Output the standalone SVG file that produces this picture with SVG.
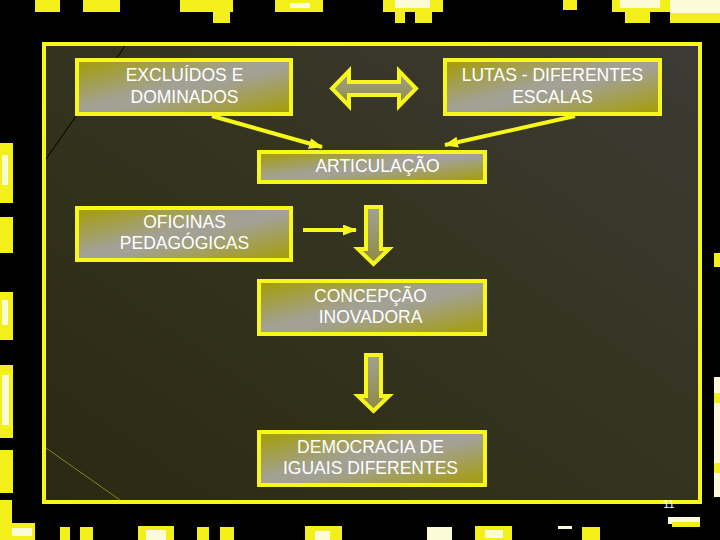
<svg xmlns="http://www.w3.org/2000/svg" width="720" height="540" viewBox="0 0 720 540">
  <defs>
    <linearGradient id="panelg" x1="0" y1="1" x2="1" y2="0">
      <stop offset="0" stop-color="#2b2912"/>
      <stop offset="0.5" stop-color="#34331f"/>
      <stop offset="1" stop-color="#3c3b35"/>
    </linearGradient>
    <linearGradient id="boxg" x1="0" y1="0" x2="1" y2="1">
      <stop offset="0" stop-color="#a59d00"/>
      <stop offset="0.45" stop-color="#a2a194"/>
      <stop offset="0.55" stop-color="#a2a194"/>
      <stop offset="1" stop-color="#a59d00"/>
    </linearGradient>
    <linearGradient id="arrg" x1="0" y1="0" x2="0" y2="1">
      <stop offset="0" stop-color="#a2a294"/>
      <stop offset="1" stop-color="#8f8a40"/>
    </linearGradient>
    <marker id="ah" markerWidth="14" markerHeight="11" refX="13" refY="5.5" orient="auto" markerUnits="userSpaceOnUse" viewBox="0 0 14 11">
      <path d="M0,0 L14,5.5 L0,11 Z" fill="#f7f71a"/>
    </marker>
    <style>
      .blk { fill: #f2f018; }
      .wht { fill: #fbfbd8; }
      .box { fill: url(#boxg); stroke: #f7f71a; stroke-width: 4; }
      .barrow { fill: url(#arrg); stroke: #f7f71a; stroke-width: 4; stroke-linejoin: miter; }
      .conn { stroke: #f7f71a; stroke-width: 4; fill: none; }
      .lbl { font-family: "Liberation Sans", Arial, sans-serif; font-size: 17.5px; fill: #ffffff; text-anchor: middle; }
    </style>
  </defs>

  <rect x="0" y="0" width="720" height="540" fill="#000000"/>

  <g id="decor">
    <rect class="blk" x="35" y="0" width="25" height="12"/>
    <rect class="blk" x="83" y="0" width="37" height="12"/>
    <rect class="blk" x="180" y="0" width="53" height="12"/>
    <rect class="blk" x="213" y="10" width="17" height="13"/>
    <rect class="blk" x="275" y="0" width="48" height="12"/>
    <rect class="wht" x="290" y="3" width="20" height="5"/>
    <rect class="blk" x="383" y="0" width="60" height="12"/>
    <rect class="wht" x="395" y="0" width="35" height="8"/>
    <rect class="blk" x="395" y="10" width="10" height="13"/>
    <rect class="blk" x="415" y="10" width="17" height="13"/>
    <rect class="blk" x="563" y="0" width="14" height="10"/>
    <rect class="blk" x="612" y="0" width="58" height="12"/>
    <rect class="wht" x="620" y="0" width="40" height="8"/>
    <rect class="blk" x="625" y="10" width="25" height="13"/>
    <rect class="wht" x="670" y="0" width="50" height="13"/>
    <rect class="blk" x="670" y="13" width="50" height="10"/>
    <rect class="blk" x="0" y="143" width="13" height="60"/>
    <rect class="wht" x="2" y="155" width="6" height="30"/>
    <rect class="blk" x="0" y="217" width="13" height="36"/>
    <rect class="blk" x="0" y="292" width="13" height="48"/>
    <rect class="wht" x="2" y="300" width="6" height="25"/>
    <rect class="blk" x="0" y="365" width="13" height="73"/>
    <rect class="wht" x="2" y="375" width="7" height="50"/>
    <rect class="blk" x="0" y="450" width="13" height="43"/>
    <rect class="blk" x="0" y="500" width="12" height="40"/>
    <rect class="blk" x="0" y="523" width="35" height="17"/>
    <rect class="wht" x="12" y="528" width="20" height="8"/>
    <rect class="blk" x="714" y="253" width="6" height="14"/>
    <rect class="wht" x="714" y="377" width="6" height="120"/>
    <rect class="blk" x="714" y="393" width="6" height="10"/>
    <rect class="blk" x="714" y="463" width="6" height="10"/>
    <rect class="blk" x="60" y="527" width="10" height="13"/>
    <rect class="blk" x="80" y="527" width="13" height="13"/>
    <rect class="blk" x="138" y="526" width="36" height="14"/>
    <rect class="wht" x="146" y="530" width="20" height="10"/>
    <rect class="blk" x="197" y="527" width="12" height="13"/>
    <rect class="blk" x="220" y="527" width="14" height="13"/>
    <rect class="blk" x="305" y="526" width="37" height="14"/>
    <rect class="wht" x="315" y="531" width="15" height="9"/>
    <rect class="wht" x="427" y="527" width="25" height="13"/>
    <rect class="blk" x="475" y="526" width="37" height="14"/>
    <rect class="wht" x="485" y="530" width="18" height="8"/>
    <rect class="wht" x="558" y="526" width="14" height="3"/>
    <rect class="blk" x="582" y="527" width="18" height="13"/>
    <rect class="wht" x="668" y="517" width="32" height="7"/>
    <rect class="blk" x="672" y="522" width="28" height="5"/>
  </g>

  <g id="panel">
    <rect x="44" y="44" width="656" height="458" fill="url(#panelg)" stroke="#f7f71a" stroke-width="4"/>
    <line x1="125" y1="46" x2="46" y2="159" stroke="#000000" stroke-width="1"/>
    <line x1="46" y1="448" x2="120" y2="500" stroke="#8a8420" stroke-width="1"/>
  </g>

  <g id="connectors">
    <line class="conn" x1="212" y1="116" x2="322" y2="147" marker-end="url(#ah)"/>
    <line class="conn" x1="575" y1="116" x2="445" y2="145" marker-end="url(#ah)"/>
    <line class="conn" x1="303" y1="230" x2="356" y2="230" stroke-width="3.5" marker-end="url(#ah)"/>
    <polygon id="double-arrow" class="barrow" points="332,88.5 349,71 349,82 399,82 399,71 416,88.5 399,106 399,95 349,95 349,106"/>
    <polygon id="down-arrow-1" class="barrow" points="366,207 381,207 381,249 389,249 373.5,264 358,249 366,249"/>
    <polygon id="down-arrow-2" class="barrow" points="366,355 381,355 381,396 389,396 373.5,411 358,396 366,396"/>
  </g>

  <g id="excluidos">
    <rect class="box" x="77" y="60" width="214" height="54"/>
    <text class="lbl" x="184.5" y="81">EXCLUÍDOS E</text>
    <text class="lbl" x="184.5" y="103">DOMINADOS</text>
  </g>

  <g id="lutas">
    <rect class="box" x="445" y="60" width="215" height="54"/>
    <text class="lbl" x="552.5" y="81">LUTAS - DIFERENTES</text>
    <text class="lbl" x="552.5" y="103">ESCALAS</text>
  </g>

  <g id="articulacao">
    <rect class="box" x="259" y="152" width="226" height="30"/>
    <text class="lbl" x="377.5" y="172">ARTICULAÇÃO</text>
  </g>

  <g id="oficinas">
    <rect class="box" x="77" y="208" width="214" height="52"/>
    <text class="lbl" x="184.5" y="228">OFICINAS</text>
    <text class="lbl" x="184.5" y="249">PEDAGÓGICAS</text>
  </g>

  <g id="concepcao">
    <rect class="box" x="259" y="281" width="226" height="53"/>
    <text class="lbl" x="370.5" y="302">CONCEPÇÃO</text>
    <text class="lbl" x="370.5" y="323">INOVADORA</text>
  </g>

  <g id="democracia">
    <rect class="box" x="259" y="432" width="226" height="53"/>
    <text class="lbl" x="370.5" y="453">DEMOCRACIA DE</text>
    <text class="lbl" x="370.5" y="474">IGUAIS DIFERENTES</text>
  </g>

  <text x="669" y="508" font-family="'Liberation Sans', Arial, sans-serif" font-size="11" fill="#ffffff" text-anchor="middle">11</text>
</svg>
